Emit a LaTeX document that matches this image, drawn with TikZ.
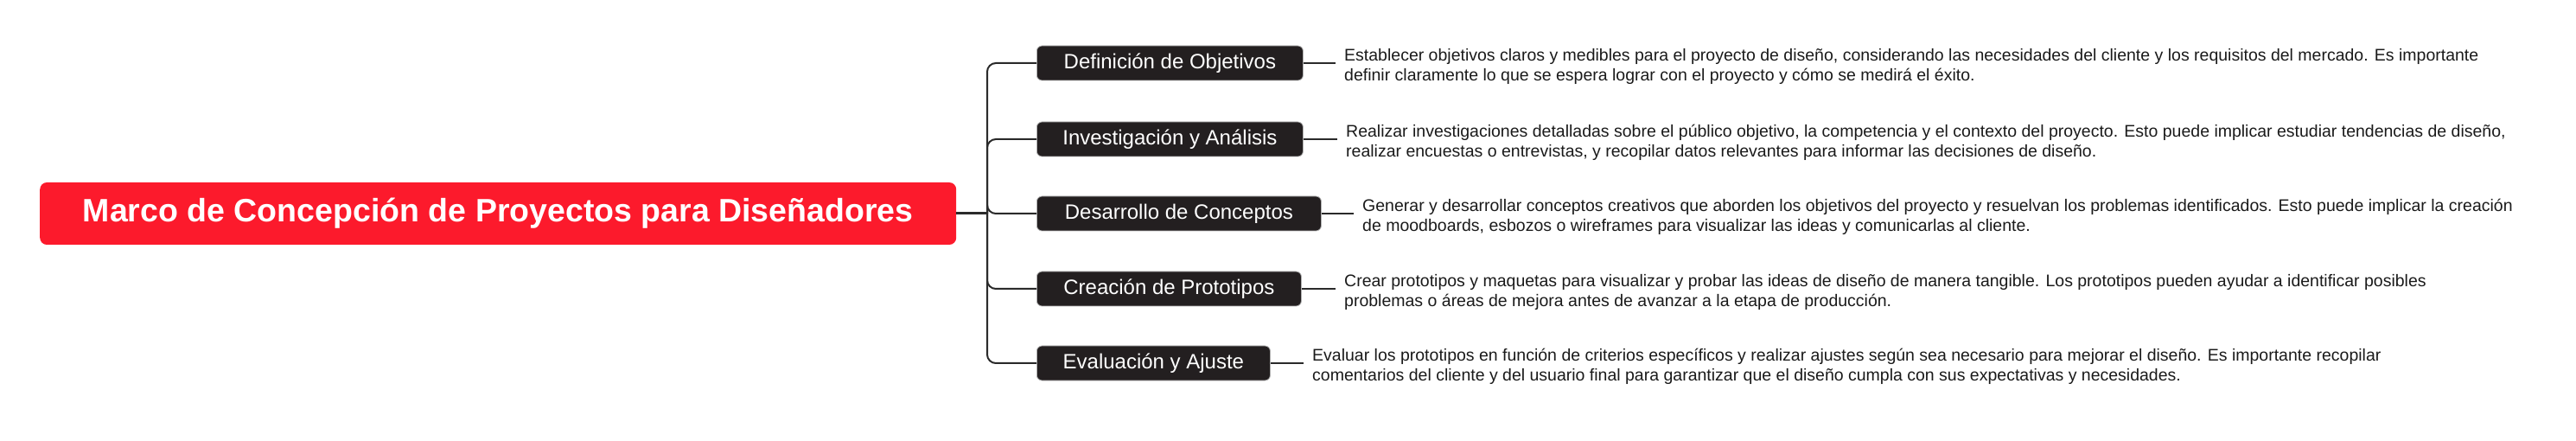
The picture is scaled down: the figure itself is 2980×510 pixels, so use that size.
\documentclass[tikz,border=0pt]{standalone}
\usepackage{fontspec}
\setmainfont{Liberation Sans}
\definecolor{rootred}{HTML}{FC1A2C}
\definecolor{boxdark}{HTML}{231F20}
\definecolor{linec}{HTML}{2A2A2A}
\definecolor{txt}{HTML}{1A1A1A}
\tikzset{
  rootbox/.style={fill=rootred, rounded corners=8pt, text=white, anchor=west,
    font=\fontsize{37.5}{42}\selectfont\bfseries, minimum height=72pt, inner sep=0pt},
  topic/.style={fill=boxdark, draw=gray!60, line width=0.8pt, rounded corners=6pt, text=white, anchor=west,
    font=\fontsize{24}{28}\selectfont, minimum height=40pt, inner sep=0pt},
  desc/.style={anchor=west, align=left, text=txt, inner xsep=6pt, inner ysep=0pt,
    font=\fontsize{19.5}{23}\selectfont},
  conn/.style={draw=linec, line width=2pt},
}
\begin{document}
\begin{tikzpicture}[x=1pt,y=-1pt]
\useasboundingbox (0,0) rectangle (2980,510);
\node[rootbox, minimum width=1060pt] (root) at (46,247) {Marco de Concepción de Proyectos para Diseñadores};
\coordinate (trunk) at (1142,247);

\node[topic, minimum width=308pt] (t1) at (1199,73) {Definición de Objetivos};
\node[topic, minimum width=308pt] (t2) at (1199,161) {Investigación y Análisis};
\node[topic, minimum width=329pt] (t3) at (1199,247) {Desarrollo de Conceptos};
\node[topic, minimum width=306pt] (t4) at (1199,334) {Creación de Prototipos};
\node[topic, minimum width=270pt] (t5) at (1199,420) {Evaluación y Ajuste};

\node[desc] (d1) at (1549,77) {Establecer objetivos claros y medibles para el proyecto de diseño, considerando las necesidades del cliente y los requisitos del mercado. Es importante\\definir claramente lo que se espera lograr con el proyecto y cómo se medirá el éxito.};
\node[desc] (d2) at (1551,165) {Realizar investigaciones detalladas sobre el público objetivo, la competencia y el contexto del proyecto. Esto puede implicar estudiar tendencias de diseño,\\realizar encuestas o entrevistas, y recopilar datos relevantes para informar las decisiones de diseño.};
\node[desc] (d3) at (1570,251) {Generar y desarrollar conceptos creativos que aborden los objetivos del proyecto y resuelvan los problemas identificados. Esto puede implicar la creación\\de moodboards, esbozos o wireframes para visualizar las ideas y comunicarlas al cliente.};
\node[desc] (d4) at (1549,338) {Crear prototipos y maquetas para visualizar y probar las ideas de diseño de manera tangible. Los prototipos pueden ayudar a identificar posibles\\problemas o áreas de mejora antes de avanzar a la etapa de producción.};
\node[desc] (d5) at (1512,424) {Evaluar los prototipos en función de criterios específicos y realizar ajustes según sea necesario para mejorar el diseño. Es importante recopilar\\comentarios del cliente y del usuario final para garantizar que el diseño cumpla con sus expectativas y necesidades.};

\draw[conn, line width=3pt] (root.east) -- (trunk);
\foreach \t in {t1,t2,t3,t4,t5}{
  \draw[conn, rounded corners=10pt] (trunk) |- (\t.west);
}
\foreach \t/\d in {t1/d1,t2/d2,t3/d3,t4/d4,t5/d5}{
  \draw[conn] (\t.east) -- ([xshift=-4pt]\t.east -| \d.west);
}
\end{tikzpicture}
\end{document}
